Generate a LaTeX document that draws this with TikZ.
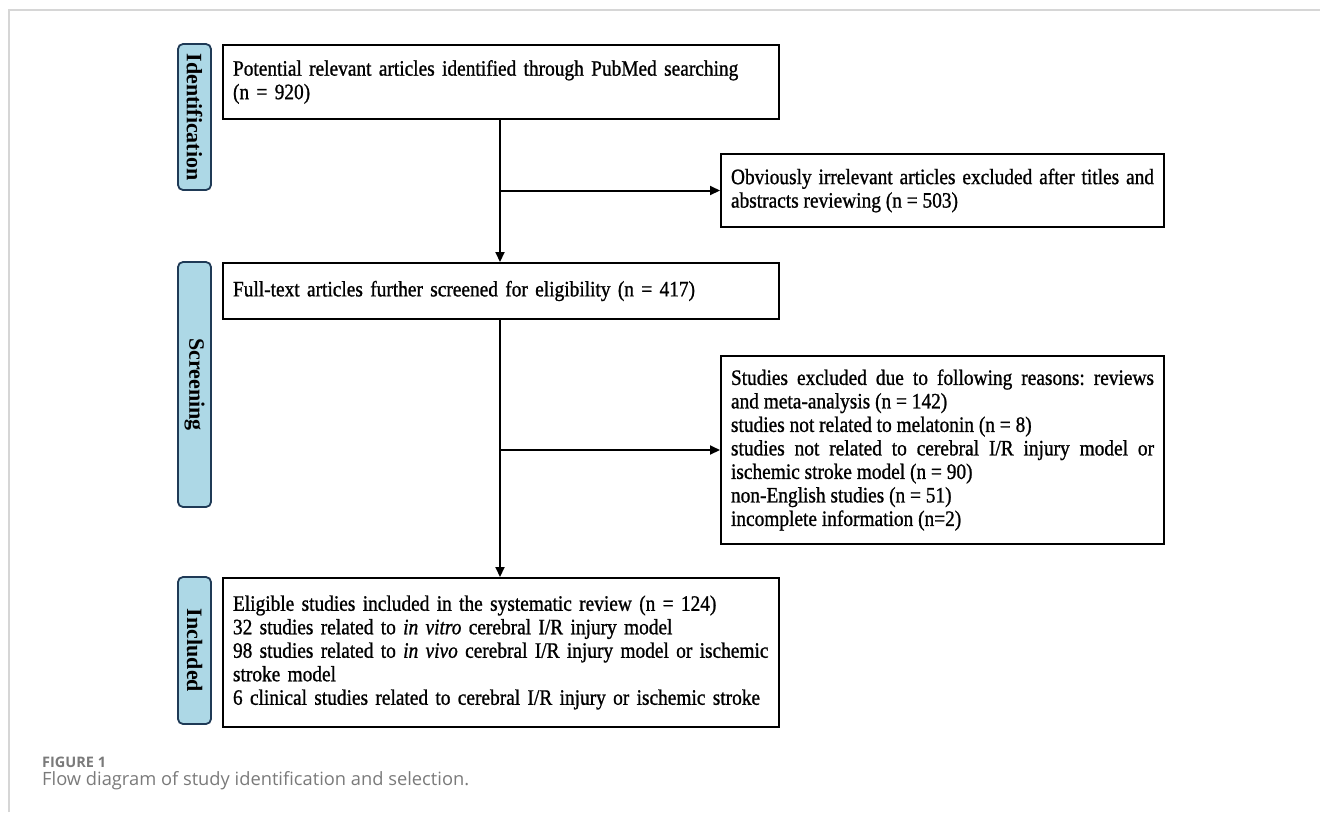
\documentclass[tikz,border=0pt]{standalone}
\usepackage{fontspec}
\setmainfont{Liberation Serif}
\newfontfamily\boxfam{Liberation Serif}[FakeStretch=0.88,FakeBold=1]
\newfontfamily\capfont{Open Sans}
\usetikzlibrary{arrows.meta}
\definecolor{tabfill}{HTML}{ADD8E6}
\definecolor{tabdraw}{HTML}{1F3A56}
\definecolor{framegray}{HTML}{D6D6D6}
\definecolor{capgray}{HTML}{7A7A7A}
\newcommand{\boxfont}{\boxfam\fontsize{22}{23.5}\selectfont\frenchspacing\hyphenpenalty=10000\relax\exhyphenpenalty=10000\relax}
\begin{document}
\begin{tikzpicture}[x=1pt,y=-1pt,
  box/.style={draw=black, line width=2pt, anchor=north west, inner xsep=10pt, inner ysep=0pt,
    font=\boxfont, align=left},
  tab/.style={draw=tabdraw, fill=tabfill, line width=1.8pt, rounded corners=5pt, rotate=-90,
    minimum height=33pt, inner sep=0pt, font=\fontsize{22}{24}\selectfont\bfseries},
  arr/.style={line width=2pt, -{Triangle[length=10pt,width=9pt]}},
]
\useasboundingbox (0,0) rectangle (1320,812);
\draw[framegray, line width=1.3pt] (9,812) -- (9,10) -- (1320,10);

% phase tabs
\node[tab, minimum width=146pt] (t1) at (194.5,117) {Identification};
\node[tab, minimum width=245pt] (t2) at (194.5,384.5) {Screening};
\node[tab, minimum width=147pt] (t3) at (194.5,650.5) {Included};

% boxes
\node[box, text width=536pt, minimum height=74pt] (n1) at (222,44)
  {Potential relevant articles identified through PubMed searching\\(n = 920)};
\node[box, text width=423pt, minimum height=73pt, align=justify] (n2) at (720,153)
  {Obviously irrelevant articles excluded after titles and\linebreak abstracts reviewing (n = 503)};
\node[box, text width=536pt, minimum height=56pt] (n3) at (222,262)
  {Full-text articles further screened for eligibility (n = 417)};
\node[box, text width=423pt, minimum height=188pt, align=justify] (n4) at (720,355)
  {Studies excluded due to following reasons: reviews\linebreak and meta-analysis (n = 142)\\
   studies not related to melatonin (n = 8)\\
   studies not related to cerebral I/R injury model or\linebreak ischemic stroke model (n = 90)\\
   non-English studies (n = 51)\\
   incomplete information (n=2)};
\node[box, text width=536pt, minimum height=149pt] (n5) at (222,577)
  {Eligible studies included in the systematic review (n = 124)\\
   32 studies related to \textit{in vitro} cerebral I/R injury model\\
   98 studies related to \textit{in vivo} cerebral I/R injury model or ischemic\\
   stroke model\\
   6 clinical studies related to cerebral I/R injury or ischemic stroke};

% connectors
\coordinate (vx) at (500,0);
\draw[arr] (vx |- n1.south) -- (vx |- n3.north);
\draw[arr] (vx |- n2.west) -- (n2.west);
\draw[arr] (vx |- n3.south) -- (vx |- n5.north);
\draw[arr] (vx |- n4.west) -- (n4.west);

% caption
\node[anchor=west, inner sep=0pt, text=capgray, font=\capfont\bfseries\fontsize{14.5}{16}\selectfont] (cap1) at (42,762) {FIGURE 1};
\node[anchor=west, inner sep=0pt, text=capgray, font=\capfont\fontsize{18.3}{20}\selectfont] (cap2) at (42,781) {Flow diagram of study identification and selection.};
\end{tikzpicture}
\end{document}
